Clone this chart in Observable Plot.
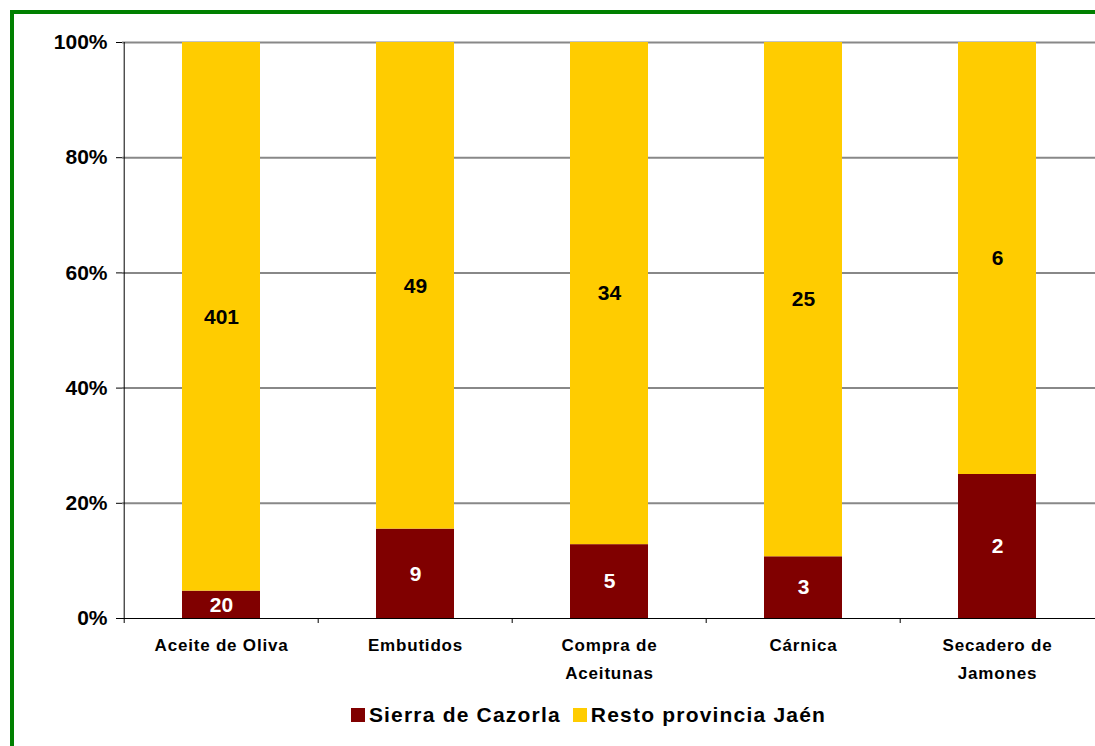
<!DOCTYPE html>
<html>
<head>
<meta charset="utf-8">
<script src="https://cdn.jsdelivr.net/npm/d3@7"></script>
<script src="https://cdn.jsdelivr.net/npm/@observablehq/plot@0.6"></script>
<style>
  html, body { margin: 0; padding: 0; background: #fff; overflow: hidden; }
  #wrap { position: relative; width: 1095px; height: 746px; overflow: hidden; font-family: "Liberation Sans", Arial, sans-serif; }
  #frame { position: absolute; left: 10px; top: 10px; width: 2000px; height: 2000px; border: 4px solid #008000; box-sizing: border-box; }
  #chart { position: absolute; left: 0; top: 0; }
  #legend { position: absolute; left: 82px; top: 703px; width: 1013px; display: flex; justify-content: center; align-items: center; font-weight: bold; font-size: 21px; letter-spacing: 1.2px; color: #000; }
  #legend .sw { display: inline-block; width: 14px; height: 14px; margin-right: 4px; }
  #legend .item { display: flex; align-items: center; margin: 0 6px; }
</style>
</head>
<body>
<div id="wrap">
  <div id="frame"></div>
  <div id="chart"></div>
  <div id="legend"></div>
</div>
<script>
const categories = ["Aceite de Oliva", "Embutidos", "Compra de Aceitunas", "Cárnica", "Secadero de Jamones"];
const categoryLabels = ["Aceite de Oliva", "Embutidos", "Compra de\nAceitunas", "Cárnica", "Secadero de\nJamones"];
const seriesNames = ["Sierra de Cazorla", "Resto provincia Jaén"];
const sierraValues = [20, 9, 5, 3, 2];
const restoValues = [401, 49, 34, 25, 6];
const seriesColors = ["#800000", "#FFCC00"];
const yTicks = [0, 0.2, 0.4, 0.6, 0.8, 1];

const data = [];
categories.forEach((c, i) => {
  data.push({cat: c, series: seriesNames[0], value: sierraValues[i]});
  data.push({cat: c, series: seriesNames[1], value: restoValues[i]});
});

const W = 1095, H = 690;
const mL = 122, mR = 0, mT = 42, mB = 72;
const step = (W - mL - mR) / categories.length;

const labelMap = new Map(categories.map((c, i) => [c, categoryLabels[i]]));

const chart = Plot.plot({
  width: W,
  height: H,
  marginLeft: mL,
  marginRight: mR,
  marginTop: mT,
  marginBottom: mB,
  style: {fontFamily: "'Liberation Sans', Arial, sans-serif", background: "transparent", overflow: "visible"},
  x: {domain: categories, paddingInner: 0.6, paddingOuter: 0.3, align: 0.5},
  y: {domain: [0, 1]},
  color: {domain: seriesNames, range: seriesColors},
  marks: [
    Plot.ruleY(yTicks.slice(1), {stroke: "#888", strokeWidth: 2}),
    Plot.barY(data, Plot.stackY({offset: "normalize", order: seriesNames}, {x: "cat", y: "value", fill: "series"})),
    Plot.text(data, Plot.stackY({offset: "normalize", order: seriesNames}, {
      x: "cat", y: "value", z: "series", text: d => String(d.value),
      fill: d => d.series === seriesNames[0] ? "#fff" : "#000",
      fontSize: 21, fontWeight: "bold"
    })),
    Plot.ruleY([0], {stroke: "#000", strokeWidth: 1}),
    Plot.ruleX([categories[0]], {dx: -step / 2, y1: 0, y2: 1, stroke: "#000", strokeWidth: 1}),
    Plot.ruleX(categories, {dx: -step / 2, y1: 0, y2: 0, insetBottom: -5, stroke: "#000"}),
    Plot.axisY({
      ticks: yTicks, tickFormat: d3.format(".0%"), tickSize: 6, tickPadding: 9,
      label: null, fontSize: 21, fontWeight: "bold", stroke: "#000", color: "#000"
    }),
    Plot.axisX({
      tickSize: 0, tickPadding: 13, label: null,
      tickFormat: d => labelMap.get(d),
      fontSize: 17, fontWeight: "bold", lineHeight: 1.62
    })
  ]
});
chart.querySelectorAll("g[aria-label='x-axis tick label']").forEach(e => e.setAttribute("letter-spacing", "0.8"));
chart.querySelectorAll("g[aria-label='y-axis tick label']").forEach(e => { e.setAttribute("fill", "#000"); });
document.getElementById("chart").appendChild(chart);

const legend = document.getElementById("legend");
seriesNames.forEach((s, i) => {
  const item = document.createElement("div");
  item.className = "item";
  const sw = document.createElement("span");
  sw.className = "sw";
  sw.style.background = seriesColors[i];
  const t = document.createElement("span");
  t.textContent = s;
  item.appendChild(sw);
  item.appendChild(t);
  legend.appendChild(item);
});
</script>
</body>
</html>
